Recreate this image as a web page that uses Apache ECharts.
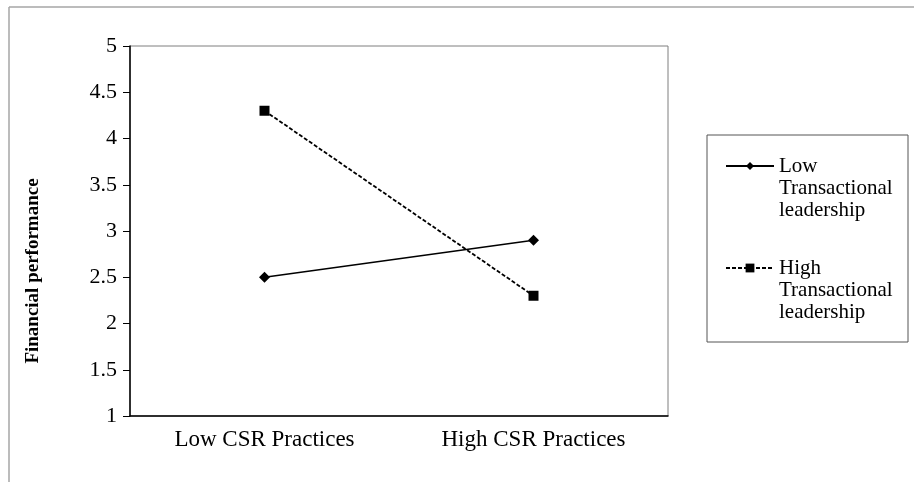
<!DOCTYPE html>
<html>
<head>
<meta charset="utf-8">
<script src="https://cdn.jsdelivr.net/npm/echarts@6/dist/echarts.min.js"></script>
<style>html,body{margin:0;padding:0;background:#fff}#c{width:914px;height:482px}</style>
</head>
<body>
<div id="c"></div>
<script>
const categories = ['Low CSR Practices', 'High CSR Practices'];
const lowTL = [2.5, 2.9];
const highTL = [4.3, 2.3];
const seriesNames = ['Low Transactional leadership', 'High Transactional leadership'];
const legendLabels = ['Low\nTransactional\nleadership', 'High\nTransactional\nleadership'];
const yTitle = 'Financial performance';

const FONT = '"Liberation Serif", "Times New Roman", serif';
const chart = echarts.init(document.getElementById('c'));
const legendText = {
  fontFamily: FONT, fontSize: 21, color: '#000', lineHeight: 22
};
chart.setOption({
  animation: false,
  backgroundColor: '#fff',
  grid: { left: 130, right: 246, top: 46, bottom: 66, show: true, borderColor: '#7f7f7f', borderWidth: 1 },
  xAxis: {
    type: 'category', data: categories, boundaryGap: true,
    axisLine: { lineStyle: { color: '#000', width: 1.5 } },
    axisTick: { length: 6, lineStyle: { color: '#000', width: 1 } },
    axisLabel: { color: '#000', fontFamily: FONT, fontSize: 23, margin: 12 },
    splitLine: { show: false }
  },
  yAxis: {
    type: 'value', min: 1, max: 5, interval: 0.5,
    axisLine: { show: true, lineStyle: { color: '#000', width: 1.5 } },
    axisTick: { show: true, length: 7, lineStyle: { color: '#000', width: 1 } },
    axisLabel: { color: '#000', fontFamily: FONT, fontSize: 22, margin: 13 },
    splitLine: { show: false }
  },
  legend: [
    {
      data: [seriesNames[0]], orient: 'vertical', left: 725, top: 111, padding: 0,
      itemWidth: 48, itemHeight: 10,
      formatter: () => '\n\n' + legendLabels[0], textStyle: legendText
    },
    {
      data: [seriesNames[1]], orient: 'vertical', left: 725, top: 213, padding: 0,
      itemWidth: 48, itemHeight: 11,
      formatter: () => '\n\n' + legendLabels[1], textStyle: legendText
    }
  ],
  series: [
    {
      name: seriesNames[0], type: 'line', data: lowTL,
      symbol: 'diamond', symbolSize: 11,
      lineStyle: { color: '#000', width: 1.6, type: 'solid' },
      itemStyle: { color: '#000' }
    },
    {
      name: seriesNames[1], type: 'line', data: highTL,
      symbol: 'rect', symbolSize: 10,
      lineStyle: { color: '#000', width: 1.8, type: [4, 2] },
      itemStyle: { color: '#000' }
    }
  ],
  graphic: [
    { type: 'line', shape: { x1: 9, y1: 7, x2: 914, y2: 7 }, style: { stroke: '#a6a6a6', lineWidth: 1.5 } },
    { type: 'line', shape: { x1: 9, y1: 7, x2: 9, y2: 482 }, style: { stroke: '#a6a6a6', lineWidth: 1.5 } },
    { type: 'rect', shape: { x: 707, y: 135, width: 201, height: 207 }, style: { fill: 'none', stroke: '#555', lineWidth: 1 } },
    { type: 'text', x: 33, y: 271, rotation: Math.PI / 2,
      style: { text: yTitle, font: 'bold 19px ' + FONT, fill: '#000', align: 'center', verticalAlign: 'middle' } }
  ]
});
</script>
</body>
</html>
